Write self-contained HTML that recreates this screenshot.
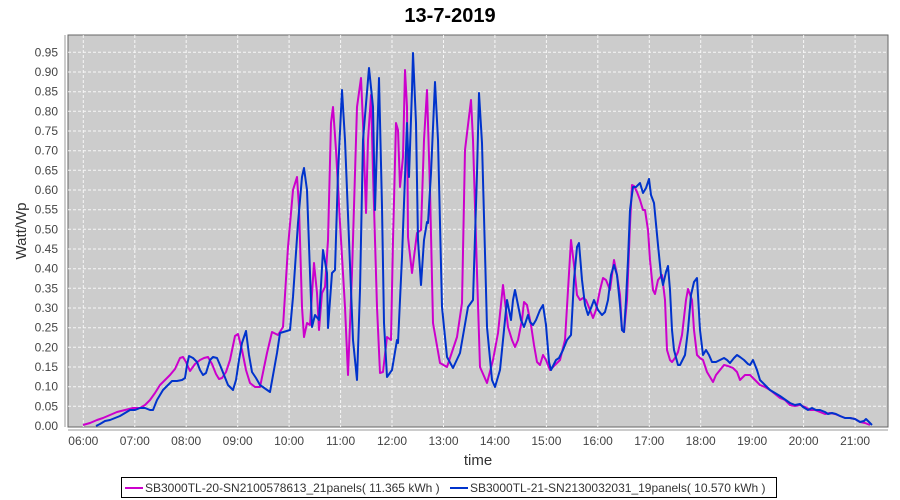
<!DOCTYPE html>
<html><head><meta charset="utf-8"><style>
body{margin:0;background:#fff;}
svg{display:block;font-family:"Liberation Sans",sans-serif;}
</style></head><body>
<svg width="900" height="500" viewBox="0 0 900 500" xmlns="http://www.w3.org/2000/svg">
<text x="450" y="22" text-anchor="middle" font-size="20" font-weight="bold" fill="#000">13-7-2019</text>
<rect x="68" y="35" width="820" height="392" fill="#cccccc" stroke="#666" stroke-width="1"/>
<g stroke="#fff" stroke-width="1" stroke-dasharray="3,2" opacity="0.85">
<line x1="68" x2="888" y1="406.3" y2="406.3"/><line x1="68" x2="888" y1="386.7" y2="386.7"/><line x1="68" x2="888" y1="367" y2="367"/><line x1="68" x2="888" y1="347.3" y2="347.3"/><line x1="68" x2="888" y1="327.7" y2="327.7"/><line x1="68" x2="888" y1="308" y2="308"/><line x1="68" x2="888" y1="288.3" y2="288.3"/><line x1="68" x2="888" y1="268.7" y2="268.7"/><line x1="68" x2="888" y1="249" y2="249"/><line x1="68" x2="888" y1="229.3" y2="229.3"/><line x1="68" x2="888" y1="209.7" y2="209.7"/><line x1="68" x2="888" y1="190" y2="190"/><line x1="68" x2="888" y1="170.3" y2="170.3"/><line x1="68" x2="888" y1="150.7" y2="150.7"/><line x1="68" x2="888" y1="131" y2="131"/><line x1="68" x2="888" y1="111.3" y2="111.3"/><line x1="68" x2="888" y1="91.7" y2="91.7"/><line x1="68" x2="888" y1="72" y2="72"/><line x1="68" x2="888" y1="52.3" y2="52.3"/>
<line y1="35" y2="427" x1="83.3" x2="83.3"/><line y1="35" y2="427" x1="134.8" x2="134.8"/><line y1="35" y2="427" x1="186.2" x2="186.2"/><line y1="35" y2="427" x1="237.7" x2="237.7"/><line y1="35" y2="427" x1="289.1" x2="289.1"/><line y1="35" y2="427" x1="340.6" x2="340.6"/><line y1="35" y2="427" x1="392" x2="392"/><line y1="35" y2="427" x1="443.5" x2="443.5"/><line y1="35" y2="427" x1="494.9" x2="494.9"/><line y1="35" y2="427" x1="546.4" x2="546.4"/><line y1="35" y2="427" x1="597.8" x2="597.8"/><line y1="35" y2="427" x1="649.3" x2="649.3"/><line y1="35" y2="427" x1="700.7" x2="700.7"/><line y1="35" y2="427" x1="752.2" x2="752.2"/><line y1="35" y2="427" x1="803.6" x2="803.6"/><line y1="35" y2="427" x1="855.1" x2="855.1"/>
</g>
<line x1="65" y1="35" x2="65" y2="427" stroke="#999"/>
<line x1="68" y1="430" x2="888" y2="430" stroke="#999"/>
<g font-size="12" fill="#444" text-anchor="end">
<text x="58" y="430">0.00</text><text x="58" y="410.3">0.05</text><text x="58" y="390.7">0.10</text><text x="58" y="371">0.15</text><text x="58" y="351.3">0.20</text><text x="58" y="331.7">0.25</text><text x="58" y="312">0.30</text><text x="58" y="292.3">0.35</text><text x="58" y="272.7">0.40</text><text x="58" y="253">0.45</text><text x="58" y="233.3">0.50</text><text x="58" y="213.7">0.55</text><text x="58" y="194">0.60</text><text x="58" y="174.3">0.65</text><text x="58" y="154.7">0.70</text><text x="58" y="135">0.75</text><text x="58" y="115.3">0.80</text><text x="58" y="95.7">0.85</text><text x="58" y="76">0.90</text><text x="58" y="56.3">0.95</text>
</g>
<g font-size="12" fill="#444" text-anchor="middle">
<text x="83.3" y="445">06:00</text><text x="134.8" y="445">07:00</text><text x="186.2" y="445">08:00</text><text x="237.7" y="445">09:00</text><text x="289.1" y="445">10:00</text><text x="340.6" y="445">11:00</text><text x="392" y="445">12:00</text><text x="443.5" y="445">13:00</text><text x="494.9" y="445">14:00</text><text x="546.4" y="445">15:00</text><text x="597.8" y="445">16:00</text><text x="649.3" y="445">17:00</text><text x="700.7" y="445">18:00</text><text x="752.2" y="445">19:00</text><text x="803.6" y="445">20:00</text><text x="855.1" y="445">21:00</text>
</g>
<text x="478" y="465" text-anchor="middle" font-size="15" fill="#333">time</text>
<text transform="translate(26,231) rotate(-90)" text-anchor="middle" font-size="15" fill="#333">Watt/Wp</text>
<polyline fill="none" stroke="#cc00cc" stroke-width="2" stroke-linejoin="round" points="83,425 90,423 97,420 103,418 110,415 117,412 125,410 133,408 140,408 145,405 150,400 155,393 160,385 165,380 170,375 175,369 180,358 183,357 186,362 190,371 195,364 200,360 204,358 208,357 212,364 216,374 219,379 222,378 226,372 230,360 235,336 238,334 242,350 246,370 250,383 255,387 260,387 267,353 272,332 278,335 283,327 288,247 293,190 297,177 299,207 302,307 304,337 307,323 310,325 314,263 317,293 319,330 322,293 325,287 328,240 331,123 333,107 336,150 340,223 345,307 348,375 352,273 357,107 361,78 363,123 366,213 368,140 371,95 373,173 377,307 380,373 383,372 387,337 391,340 393,240 396,123 398,130 400,187 403,157 405,70 407,107 408,237 412,273 417,233 421,230 424,140 427,90 430,190 433,323 440,363 447,367 457,337 462,303 465,150 471,100 473,140 477,273 480,367 487,383 493,360 498,333 503,285 508,327 512,340 515,347 518,340 522,320 524,302 527,305 531,325 534,345 537,362 540,365 543,355 546,360 550,370 555,365 560,360 565,340 568,290 571,240 574,265 577,295 580,300 583,298 586,300 590,310 593,318 596,310 600,290 603,278 606,280 610,290 612,275 614,260 617,275 620,295 622,330 624,332 627,300 630,225 632,185 634,186 637,192 640,200 643,210 645,210 648,230 650,260 653,290 655,294 658,280 662,275 665,300 667,350 670,360 672,362 675,358 678,352 682,335 686,300 688,289 692,300 694,330 697,355 700,358 703,360 707,372 713,382 716,375 720,370 724,365 728,366 733,368 737,372 740,380 745,375 750,375 755,380 760,385 765,387 770,390 775,394 780,398 785,400 790,405 795,406 800,405 805,407 810,410 815,410 820,412 825,414 830,413 835,414 840,416 845,418 850,418 855,419 860,422 865,423 870,425"/>
<polyline fill="none" stroke="#0033cc" stroke-width="2" stroke-linejoin="round" points="96,426 100,424 105,421 110,420 115,418 120,416 125,413 130,410 135,410 140,408 145,408 150,410 153,410 157,400 160,395 163,390 167,386 172,381 177,381 182,380 185,378 187,365 189,356 193,358 197,362 200,370 203,375 206,373 210,360 213,357 217,358 220,365 224,375 228,385 233,390 236,380 239,360 242,343 246,331 249,355 252,372 256,378 260,385 270,392 277,353 280,333 290,330 293,297 298,223 302,177 304,168 307,190 310,273 312,327 315,315 319,320 323,250 327,273 328,328 332,273 335,270 338,173 342,90 345,140 349,240 353,340 357,380 360,290 363,140 369,68 373,107 375,210 379,78 382,207 384,323 387,377 392,370 397,340 398,343 402,257 407,123 409,177 412,90 413,53 416,123 418,240 421,285 424,240 427,222 428,223 431,173 435,82 438,140 442,307 447,357 453,368 460,353 468,307 473,300 477,173 479,93 482,143 487,327 492,380 495,387 500,370 507,300 511,320 513,300 515,290 518,305 521,320 524,327 528,315 530,322 533,325 536,320 540,310 543,305 546,325 549,362 551,370 553,366 556,360 559,358 563,350 567,340 571,335 574,280 577,247 579,243 582,280 585,305 588,315 591,308 594,300 598,310 602,315 605,312 608,300 611,275 614,265 617,275 620,305 622,330 624,332 626,300 628,260 630,210 633,187 636,187 640,183 643,193 646,188 649,179 651,195 654,203 658,245 661,275 663,285 666,272 668,266 670,290 672,330 674,350 678,365 680,365 685,355 688,330 691,295 694,282 697,278 700,330 703,355 706,350 709,355 712,362 716,362 720,360 724,358 727,360 730,363 734,358 737,355 740,357 744,360 748,364 750,365 753,360 757,370 760,380 765,385 770,390 780,396 790,403 795,405 800,404 803,407 808,410 812,408 816,410 820,410 825,412 828,414 832,413 836,414 840,416 845,418 850,418 855,419 860,422 864,421 866,419 868,421 872,425"/>
<rect x="121.5" y="477.5" width="655" height="20" fill="#fff" stroke="#000"/>
<line x1="125" y1="488" x2="143" y2="488" stroke="#cc00cc" stroke-width="2"/>
<text x="145" y="492" font-size="12" fill="#333">SB3000TL-20-SN2100578613_21panels( 11.365 kWh )</text>
<line x1="450" y1="488" x2="468" y2="488" stroke="#0033cc" stroke-width="2"/>
<text x="470" y="492" font-size="12" fill="#333">SB3000TL-21-SN2130032031_19panels( 10.570 kWh )</text>
</svg>
</body></html>
